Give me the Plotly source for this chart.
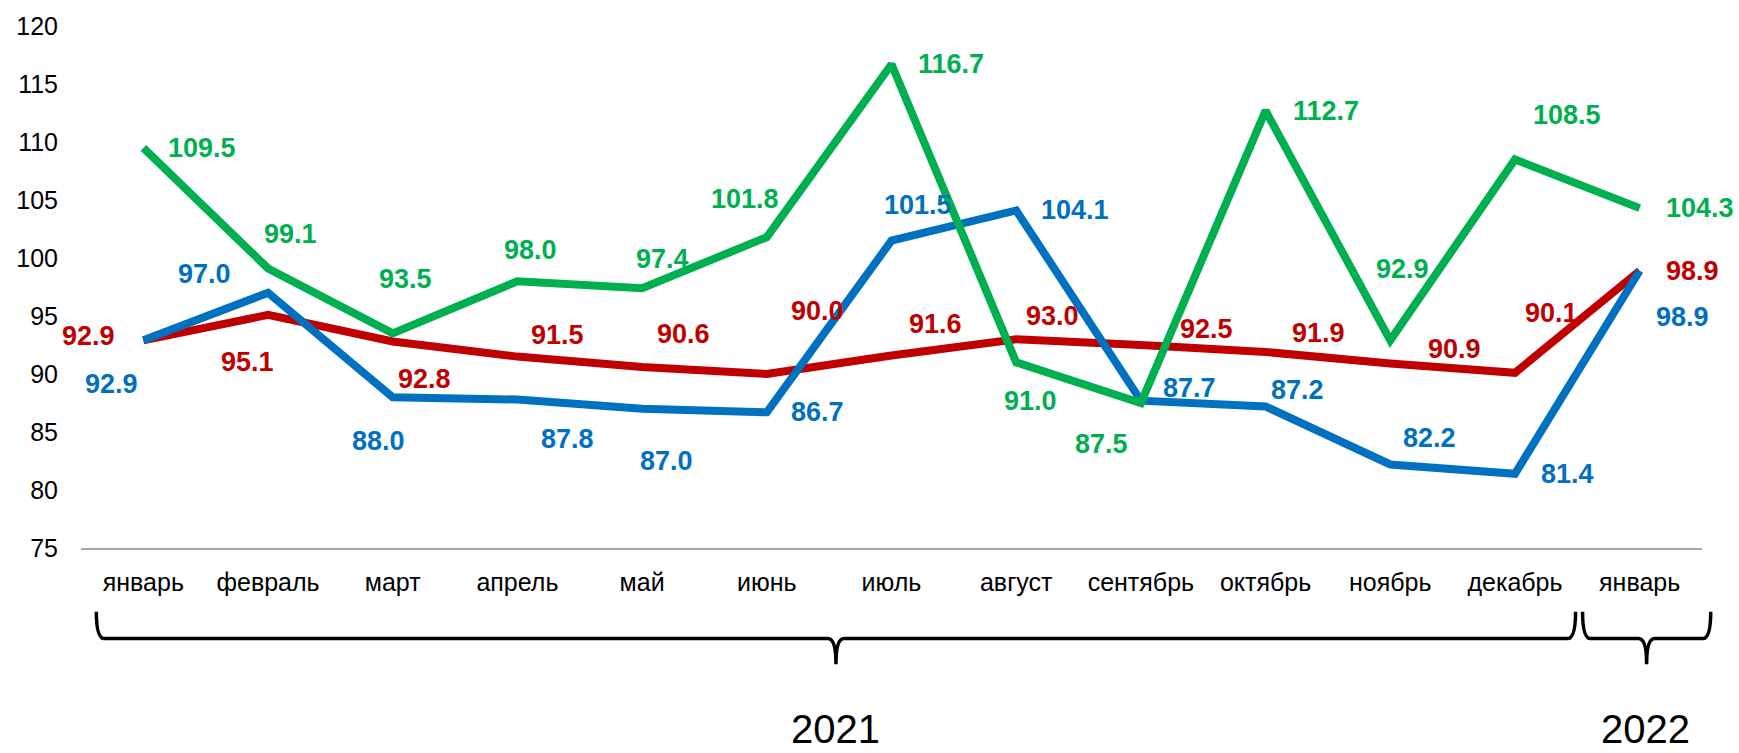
import plotly.graph_objects as go

# ---- data ----
months = ["январь", "февраль", "март", "апрель", "май", "июнь", "июль",
          "август", "сентябрь", "октябрь", "ноябрь", "декабрь", "январь"]
years = ["2021", "2022"]
red_values = [92.9, 95.1, 92.8, 91.5, 90.6, 90.0, 91.6, 93.0, 92.5, 91.9, 90.9, 90.1, 98.9]
blue_values = [92.9, 97.0, 88.0, 87.8, 87.0, 86.7, 101.5, 104.1, 87.7, 87.2, 82.2, 81.4, 98.9]
green_values = [109.5, 99.1, 93.5, 98.0, 97.4, 101.8, 116.7, 91.0, 87.5, 112.7, 92.9, 108.5, 104.3]
y_ticks = [75, 80, 85, 90, 95, 100, 105, 110, 115, 120]

# ---- styling ----
RED, BLUE, GREEN = "#C00000", "#0070C0", "#00B050"
FONT = "Arial, 'Liberation Sans', sans-serif"

# label offsets in pixels (dx right, dy down) per point
red_off = [(-55, -4), (-21, 47), (32, 37), (40, -22), (41, -33), (51, -63), (44, -31),
           (36, -23), (66, -16), (53, -19), (64, -15), (37, -60), (53, 0)]
blue_off = [(-32, 44), (-64, -19), (-14, 44), (50, 39), (24, 52), (51, 0), (26, -36),
            (59, 0), (49, -13), (32, -16), (39, -26), (53, 0), (43, 46)]
green_off = [(59, 0), (22, -34), (13, -54), (13, -31), (20, -29), (-22, -38), (59, 0),
             (14, 39), (-39, 41), (60, 0), (12, -71), (52, -44), (60, 0)]

x_idx = list(range(len(months)))

fig = go.Figure()
for vals, col in [(red_values, RED), (blue_values, BLUE), (green_values, GREEN)]:
    fig.add_trace(go.Scatter(x=x_idx, y=vals, mode="lines",
                             line=dict(color=col, width=8), hoverinfo="skip",
                             showlegend=False))

annotations = []
for vals, col, offs in [(red_values, RED, red_off), (blue_values, BLUE, blue_off),
                        (green_values, GREEN, green_off)]:
    for i, v in enumerate(vals):
        dx, dy = offs[i]
        annotations.append(dict(x=i, y=v, xref="x", yref="y", text=f"<b>{v:.1f}</b>",
                                showarrow=False, xshift=dx, yshift=-dy,
                                xanchor="center", yanchor="middle",
                                font=dict(family=FONT, size=27, color=col)))

# plot geometry (pixels) for bracket placement
W, H = 1739, 753
ML, MR, MT, MB = 81, 37, 23, 205
plot_w = W - ML - MR
plot_h = H - MT - MB
n = len(months)


def px_x(i):
    """category index -> paper x"""
    return (i + 0.5) / n


def py(pix_below):
    """pixels below the x axis -> paper y"""
    return -pix_below / plot_h


def brace(x0, x1, top, mid, tip, r):
    xc = (x0 + x1) / 2
    return (f"M {x0},{top} Q {x0},{mid} {x0 + r},{mid} L {xc - r},{mid} "
            f"Q {xc},{mid} {xc},{tip} Q {xc},{mid} {xc + r},{mid} "
            f"L {x1 - r},{mid} Q {x1},{mid} {x1},{top}")


top, mid, tip = py(64), py(91), py(117)
r = 8 / plot_w
shapes = [
    dict(type="path", xref="paper", yref="paper",
         path=brace(px_x(-0.377), px_x(11.486), top, mid, tip, r),
         line=dict(color="black", width=3.5)),
    dict(type="path", xref="paper", yref="paper",
         path=brace(px_x(11.542), px_x(12.57), top, mid, tip, r),
         line=dict(color="black", width=3.5)),
]

annotations.append(dict(x=px_x(5.55), y=py(182), xref="paper", yref="paper",
                        text=years[0], showarrow=False, xanchor="center", yanchor="middle",
                        font=dict(family=FONT, size=40, color="black")))
annotations.append(dict(x=px_x(12.05), y=py(182), xref="paper", yref="paper",
                        text=years[1], showarrow=False, xanchor="center", yanchor="middle",
                        font=dict(family=FONT, size=40, color="black")))

fig.update_layout(
    width=W, height=H,
    margin=dict(l=ML, r=MR, t=MT, b=MB, pad=0),
    plot_bgcolor="white", paper_bgcolor="white",
    font=dict(family=FONT, color="black"),
    xaxis=dict(range=[-0.5, n - 0.5], tickmode="array", tickvals=x_idx, ticktext=months,
               showgrid=False, zeroline=False, showline=True, linecolor="#A6A6A6",
               linewidth=1.5, ticks="", tickfont=dict(size=25, color="black"),
               ticklabelstandoff=11, fixedrange=True),
    yaxis=dict(range=[75, 120], tickmode="array", tickvals=y_ticks,
               showgrid=False, zeroline=False, showline=False, ticks="",
               tickfont=dict(size=25, color="black"), ticklabelstandoff=22,
               fixedrange=True),
    annotations=annotations,
    shapes=shapes,
)

fig.write_html("out.html", config={"displayModeBar": False},
               post_script="document.body.style.margin='0';")
